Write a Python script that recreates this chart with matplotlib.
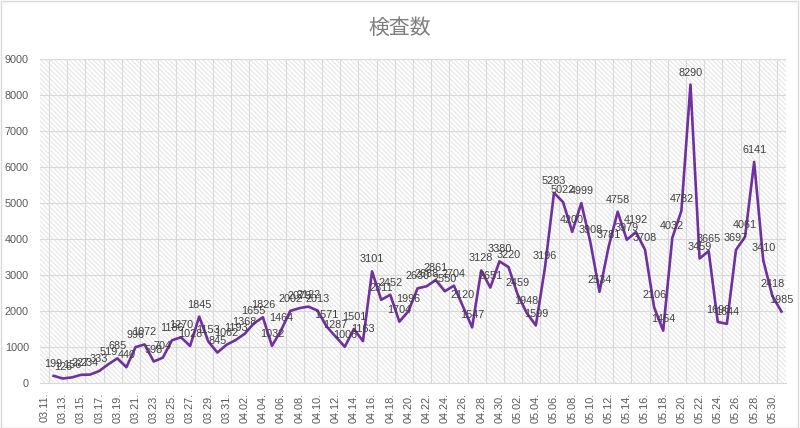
import numpy as np
import pandas as pd
import matplotlib
matplotlib.use("Agg")
import matplotlib.pyplot as plt
from matplotlib.patches import Rectangle

# categories on the axis (03.11 .. 05.31), data starts one slot in
dates = [d.strftime("%m.%d.") for d in pd.date_range("2020-03-11", "2020-05-31")]

values = [199, 126, 156, 227, 234, 333, 519, 685, 440, 996, 1072, 598, 704,
          1186, 1270, 1028, 1845, 1153, 845, 1062, 1193,
          1368, 1655, 1826, 1032, 1464, 2002, 2079, 2122, 2013, 1571, 1287,
          1006, 1501, 1163, 3101, 2311, 2452, 1704, 1996, 2630, 2688, 2861,
          2550, 2704, 2120, 1547, 3128, 2651, 3380, 3220,
          2459, 1948, 1599, 3196, 5283, 5022, 4200, 4999, 3908, 2534, 3781,
          4758, 3979, 4192, 3708, 2106, 1454, 4032, 4782, 8290, 3459, 3665,
          1696, 1644, 3697, 4061, 6141, 3410, 2418, 1985]

title = "検査数"

plt.rcParams['font.family'] = ['Liberation Sans', 'DejaVu Sans']
plt.rcParams['hatch.linewidth'] = 0.6

fig = plt.figure(figsize=(8, 4.28), dpi=100)
ax = fig.add_axes([0.05, 0.1051, 0.9325, 0.757])

# hatched plot area like the Excel original
ax.add_patch(Rectangle((0, 0), 1, 1, transform=ax.transAxes, facecolor='white',
                       edgecolor='#e0e0e0', hatch='\\\\\\\\\\\\\\', lw=0, zorder=0))

x = np.arange(1, len(values) + 1)
ax.plot(x, values, color='#7030A0', lw=1.9, zorder=3)

for xi, v in zip(x, values):
    ax.annotate(str(v), (xi, v), xytext=(0, 5), textcoords='offset points',
                ha='center', va='bottom', fontsize=7.8, color='#404040', zorder=4)

ax.set_xlim(-0.5, len(dates) - 0.5)
ax.set_ylim(0, 9000)
ax.set_yticks(range(0, 9001, 1000))
ax.set_yticklabels([str(t) for t in range(0, 9001, 1000)])

ax.set_xticks(range(0, len(dates), 2))
ax.set_xticklabels(dates[::2], rotation=90)
ax.set_xticks(np.arange(0.5, len(dates), 2), minor=True)

ax.grid(axis='y', color='#d9d9d9', lw=0.8, zorder=1)
ax.grid(axis='x', which='minor', color='#d9d9d9', lw=0.8, zorder=1)
ax.set_axisbelow(True)

ax.tick_params(axis='both', which='both', length=0, colors='#595959', labelsize=7.8)
ax.tick_params(axis='y', pad=8)
ax.tick_params(axis='x', pad=7)

for s in ['top', 'right', 'left']:
    ax.spines[s].set_visible(False)
ax.spines['bottom'].set_color('#d9d9d9')

fig.text(0.5, 0.935, title, ha='center', va='center', fontsize=15,
         color='#7f7f7f', family=['Noto Sans CJK JP', 'DejaVu Sans'])

fig.patches.append(Rectangle((0.001, 0.001), 0.997, 0.997, transform=fig.transFigure,
                             fill=False, edgecolor='#d9d9d9', lw=1))

fig.savefig("out.png", dpi=100)
